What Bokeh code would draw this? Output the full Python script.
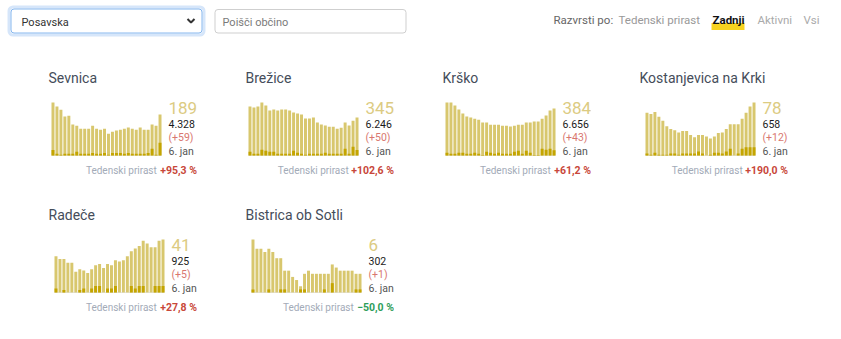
from bokeh.plotting import figure
from bokeh.models import Range1d, Label, ColumnDataSource
from bokeh.layouts import column, row
from bokeh.embed import file_html
from bokeh.resources import INLINE
from bokeh.core.properties import value

FONT = "Roboto"

# ---------------- data ----------------
names = ["Sevnica", "Brežice", "Krško", "Kostanjevica na Krki", "Radeče", "Bistrica ob Sotli"]
latest = [189, 345, 384, 78, 41, 6]
totals = [4328, 6246, 6656, 658, 925, 302]
daily_new = [59, 50, 43, 12, 5, 1]
weekly_growth = [95.3, 102.6, 61.2, 190.0, 27.8, -50.0]
date_label = "6. jan"

active_sevnica = [245, 226, 212, 180, 184, 143, 138, 124, 124, 124, 138, 124, 119, 124,
                  101, 110, 115, 119, 124, 129, 124, 119, 129, 119, 119, 143, 138, 189]
new_sevnica = [26, 8, 3, 8, 8, 8, 17, 8, 8, 8, 12, 8, 8, 12, 3, 12, 12, 12, 8, 12, 8, 8, 8, 8, 12, 31, 3, 59]

active_brezice = [445, 436, 445, 482, 455, 409, 418, 409, 418, 418, 409, 391, 381, 372,
                  336, 336, 345, 299, 281, 272, 262, 262, 244, 253, 299, 272, 317, 345]
new_brezice = [34, 15, 15, 52, 43, 34, 34, 15, 15, 15, 15, 43, 24, 15, 6, 15, 15, 15, 15, 24, 15, 15, 15, 15, 61, 15, 79, 50]

active_krsko = [433, 433, 408, 375, 343, 318, 310, 301, 293, 269, 269, 252, 252, 252,
                244, 244, 236, 244, 252, 252, 269, 269, 277, 277, 301, 326, 367, 384]
new_krsko = [22, 14, 14, 22, 22, 14, 14, 22, 14, 5, 30, 22, 14, 22, 14, 14, 14, 30, 38, 14, 38, 22, 5, 5, 55, 47, 55, 43]

active_kostanjevica = [63, 61, 64, 57, 51, 43, 39, 37, 34, 36, 36, 30, 27, 30,
                       30, 28, 25, 28, 33, 34, 39, 46, 46, 46, 54, 63, 72, 78]
new_kostanjevica = [3, 1, 4, 1, 1, 1, 3, 3, 1, 3, 3, 3, 3, 6, 3, 0, 1, 4, 4, 3, 6, 10, 0, 3, 10, 12, 12, 12]

active_radece = [28, 26, 26, 23, 23, 16, 18, 17, 15, 18, 21, 22, 19, 22,
                 21, 25, 24, 25, 28, 32, 34, 36, 40, 38, 35, 35, 40, 41]
new_radece = [3, 0, 2, 0, 0, 0, 2, 3, 0, 3, 5, 5, 0, 3, 3, 5, 0, 0, 0, 5, 3, 5, 5, 0, 0, 5, 5, 5]

active_bistrica = [17, 14, 14, 13, 14, 13, 11, 11, 7, 7, 5, 4, 2, 6,
                   7, 6, 6, 6, 6, 6, 9, 8, 7, 7, 7, 7, 6, 6]
new_bistrica = [1, 0, 0, 0, 1, 0, 0, 1, 1, 0, 0, 0, 1, 1, 0, 0, 0, 0, 1, 0, 3, 0, 0, 0, 0, 0, 1, 1]

active_series = [active_sevnica, active_brezice, active_krsko, active_kostanjevica, active_radece, active_bistrica]
new_series = [new_sevnica, new_brezice, new_krsko, new_kostanjevica, new_radece, new_bistrica]

region = "Posavska"
search_placeholder = "Poišči občino"
sort_label = "Razvrsti po:"
sort_options = ["Tedenski prirast", "Zadnji", "Aktivni", "Vsi"]

# ---------------- layout / style ----------------
PANEL_W, PANEL_H = 197, 137
BARS_W, BARS_H = 111, 53      # pixel size of the bar area
BARS_TOP = 47                 # bar area top offset inside the panel
CONTENT_W = 149
col_w = [29, 29, 29, 26, 26, 26]   # width of the number column per panel
TY = 3                              # text baseline correction

LIGHT = "#d8c76e"
DARK = "#c4a500"
BIGNUM = "#dccb82"
RED = "#c8473a"
LIGHTRED = "#d9776f"
GREEN = "#2e9e5b"
GREY = "#a3abb8"
TITLE_C = "#454d5a"


def fmt_thousands(v):
    return f"{v:,}".replace(",", ".")


def fmt_pct(v):
    s = f"{abs(v):.1f}".replace(".", ",")
    return ("+" if v >= 0 else "\u2212") + s + " %"


def make_panel(i):
    act = active_series[i]
    new = new_series[i]
    n = len(act)
    colx = PANEL_W - col_w[i]
    bars_right = colx - 6
    left = bars_right - BARS_W
    bottom = PANEL_H - BARS_TOP - BARS_H
    ux = BARS_W / n
    uy = BARS_H / max(act)
    p = figure(width=PANEL_W, height=PANEL_H, output_backend="svg", toolbar_location=None,
               tools="", x_axis_type=None, y_axis_type=None, title=None,
               x_range=Range1d(-left / ux, (PANEL_W - left) / ux),
               y_range=Range1d(-bottom / uy, (PANEL_H - bottom) / uy),
               min_border=0, min_border_left=0, min_border_right=0,
               min_border_top=0, min_border_bottom=0)
    p.outline_line_color = None
    p.background_fill_color = "white"
    p.border_fill_color = "white"
    src = ColumnDataSource(dict(x=[k + 0.375 for k in range(n)], a=act, d=new))
    p.segment(x0=[0], y0=[0], x1=[n - 0.25], y1=[0], line_color="#e6e6e6", line_width=1)
    p.vbar(x="x", top="a", width=0.75, source=src, fill_color=LIGHT, line_color=None)
    p.vbar(x="x", top="d", width=0.75, source=src, fill_color=DARK, line_color=None)

    def lab(text, x, y, size, color, align="left", style="normal"):
        p.add_layout(Label(x=x, y=y + TY, x_units="screen", y_units="screen", text=text,
                           text_font=FONT, text_font_size=f"{size}px", text_color=color,
                           text_align=align, text_baseline="alphabetic", text_font_style=style))

    # screen units: origin at panel bottom-left, y upward
    lab(names[i], PANEL_W - CONTENT_W, bottom + 75, 14, TITLE_C)
    lab(str(latest[i]), colx, bottom + 45, 17, BIGNUM)
    lab(fmt_thousands(totals[i]), colx, bottom + 29, 10.5, "#1a1a1a")
    lab(f"(+{daily_new[i]})", colx, bottom + 15.5, 10.5, LIGHTRED)
    lab(date_label, colx, bottom + 1, 10.5, "#555555")
    pct = fmt_pct(weekly_growth[i])
    lab(pct, PANEL_W - 0.5, bottom - 18, 10.5, RED if weekly_growth[i] >= 0 else GREEN, "right", "bold")
    lab("Tedenski prirast", PANEL_W - 5.1 * len(pct) - 5, bottom - 18, 10, GREY, "right")
    return p


# ---------------- header ----------------
h = figure(width=841, height=55, output_backend="svg", toolbar_location=None, tools="",
           x_axis_type=None, y_axis_type=None, title=None,
           x_range=Range1d(0, 841), y_range=Range1d(55, 0),
           min_border=0, min_border_left=0, min_border_right=0, min_border_top=0, min_border_bottom=0)
h.outline_line_color = None
h.background_fill_color = "white"
h.border_fill_color = "white"

h.quad(left=[8.5], right=[203.5], top=[6.5], bottom=[34.5], fill_color=None,
       line_color="#d6e6fa", line_width=3, border_radius=4)
h.quad(left=[10.5], right=[201.5], top=[8.5], bottom=[32.5], fill_color="white",
       line_color="#86b7ee", line_width=1, border_radius=3)
h.line(x=[187, 190.5, 194], y=[18.5, 22, 18.5], line_color="#333333", line_width=2)
h.quad(left=[214.5], right=[405.5], top=[9], bottom=[32.5], fill_color="white",
       line_color="#cfcfcf", line_width=1, border_radius=3)
h.quad(left=[711], right=[744], top=[22.5], bottom=[29.5], fill_color="#f7d320", line_color=None)


def htext(t, x, y, color, size=11.5, style="normal"):
    h.text(x=[x], y=[y - TY], text=[t], text_font=value(FONT), text_font_size=f"{size}px",
           text_color=color, text_baseline="alphabetic", text_align="left", text_font_style=style)


htext(region, 21, 24.5, "#333333", 11)
htext(search_placeholder, 222, 24.5, "#7a7a7a", 11)
htext(sort_label, 553, 22, "#666666")
htext(sort_options[0], 618, 22, "#999999")
htext(sort_options[1], 712, 22, "#111111", style="bold")
htext(sort_options[2], 757, 22, "#aaaaaa")
htext(sort_options[3], 803, 22, "#aaaaaa")

panels = [make_panel(i) for i in range(len(names))]
layout = column(h, row(*panels[:4]), row(*panels[4:]))

open("out.html", "w").write(file_html(layout, INLINE))
